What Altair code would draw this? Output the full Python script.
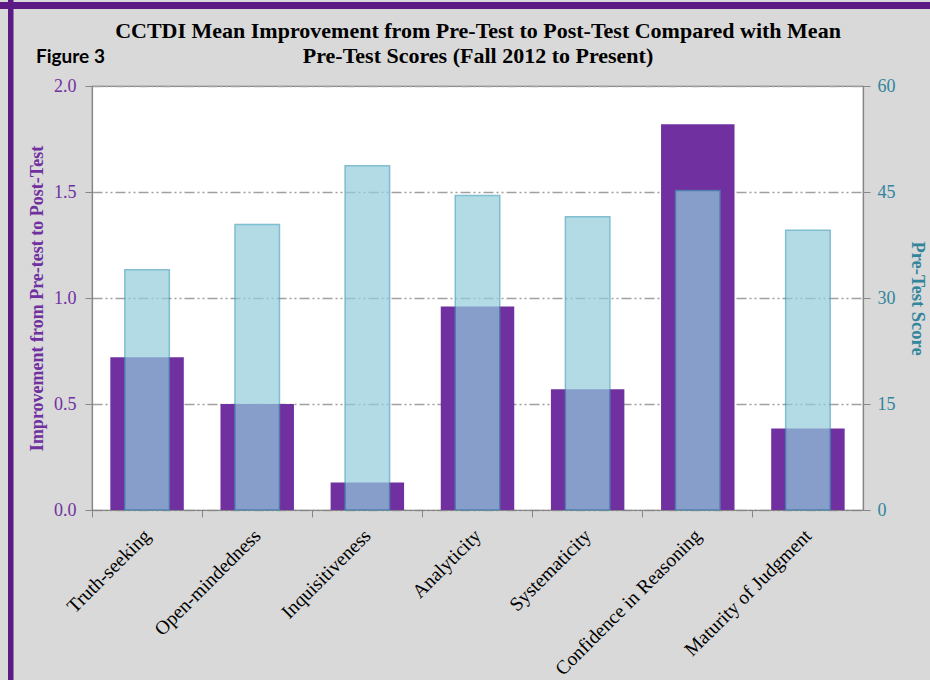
import altair as alt
import pandas as pd

categories = ["Truth-seeking", "Open-mindedness", "Inquisitiveness", "Analyticity",
              "Systematicity", "Confidence in Reasoning", "Maturity of Judgment"]
improvement = [0.72, 0.50, 0.13, 0.96, 0.57, 1.82, 0.385]
pretest = [34.0, 40.4, 48.7, 44.5, 41.5, 45.2, 39.6]
left_ticks = [0.0, 0.5, 1.0, 1.5, 2.0]
right_ticks = [0, 15, 30, 45, 60]
title_lines = ["CCTDI Mean Improvement from Pre-Test to Post-Test Compared with Mean",
               "Pre-Test Scores (Fall 2012 to Present)"]

df = pd.DataFrame({"Dimension": categories, "Improvement": improvement, "PreTest": pretest})

PURPLE = "#7030a0"
TEAL = "#31859c"
SERIF = "Liberation Serif"

W, H = 771, 424
PAD_L, PAD_T = 92, 86
CW, CH = 930, 680

xscale = alt.Scale(domain=categories, paddingInner=0, paddingOuter=0)

purple = alt.Chart(df).mark_bar(width=alt.RelativeBandSize(0.667), color=PURPLE).encode(
    x=alt.X("Dimension:N", sort=categories, scale=xscale, title=None,
            axis=alt.Axis(labelAngle=-45, labelFont=SERIF, labelFontSize=19.5, labelColor="black",
                          ticks=False, labelPadding=16, labelOffset=-6, domainColor="#868686",
                          domainWidth=1.2, orient="bottom", labelLimit=300)),
    y=alt.Y("Improvement:Q", scale=alt.Scale(domain=[0, 2]),
            axis=alt.Axis(values=left_ticks, format=".1f", orient="left",
                          title="Improvement from Pre-test to Post-Test",
                          titleFont=SERIF, titleFontSize=18, titleFontWeight="bold", titleColor=PURPLE,
                          titlePadding=7, labelFont=SERIF, labelFontSize=18, labelColor=PURPLE,
                          labelPadding=9, tickColor="#868686", tickSize=7, domainColor="#868686",
                          domainWidth=1.2, grid=True, gridColor="#a0a0a0", gridWidth=1.3,
                          gridDash=[10, 3, 2, 3, 2, 3])),
)

blue = alt.Chart(df).mark_bar(width=alt.RelativeBandSize(0.404), color="#92cddc", opacity=0.7,
                              stroke="#3f9bb5", strokeWidth=1.5, strokeOpacity=0.9).encode(
    x=alt.X("Dimension:N", sort=categories, scale=xscale, title=None,
            axis=alt.Axis(labels=False, ticks=True, tickSize=7, tickColor="#868686", domain=False,
                          bandPosition=0, orient="bottom", grid=False)),
    y=alt.Y("PreTest:Q", scale=alt.Scale(domain=[0, 60]),
            axis=alt.Axis(values=right_ticks, orient="right", title="Pre-Test Score",
                          titleFont=SERIF, titleFontSize=18.5, titleFontWeight="bold", titleColor=TEAL,
                          titlePadding=12, labelFont=SERIF, labelFontSize=18, labelColor=TEAL,
                          labelPadding=7, tickColor="#868686", tickSize=7, domainColor="#868686",
                          domainWidth=1.2, grid=False)),
)

one = pd.DataFrame({"a": [0]})
top_strip = alt.Chart(one).mark_rule(color="#5c1a85", strokeWidth=7).encode(
    x=alt.value(-PAD_L), x2=alt.value(CW - PAD_L), y=alt.value(-PAD_T + 5.5))
left_strip = alt.Chart(one).mark_rule(color="#5c1a85", strokeWidth=5.5).encode(
    x=alt.value(-PAD_L + 10.75), y=alt.value(-PAD_T), y2=alt.value(CH - PAD_T))
fig_label = alt.Chart(one).mark_text(text="Figure 3", font="Lato", fontSize=19, fontWeight="bold",
                                     align="left", baseline="alphabetic", color="black").encode(
    x=alt.value(-56), y=alt.value(-23))
title_text = alt.Chart(one).mark_text(text=title_lines, font=SERIF, fontSize=22, fontWeight="bold",
                                      align="center", baseline="alphabetic", lineHeight=25,
                                      color="black").encode(
    x=alt.value(W / 2 + 0.5), y=alt.value(-48))

chart = alt.layer(purple, blue, top_strip, left_strip, fig_label, title_text).resolve_scale(
    y="independent"
).resolve_axis(x="independent").properties(
    width=W, height=H,
    autosize=alt.AutoSizeParams(type="none"),
    padding={"left": PAD_L, "top": PAD_T, "right": CW - PAD_L - W, "bottom": CH - PAD_T - H},
    background="#d9d9d9",
).configure_view(fill="white", stroke="#868686", strokeWidth=1.2)

chart.save("out.html", embed_options={"renderer": "svg", "actions": False})
